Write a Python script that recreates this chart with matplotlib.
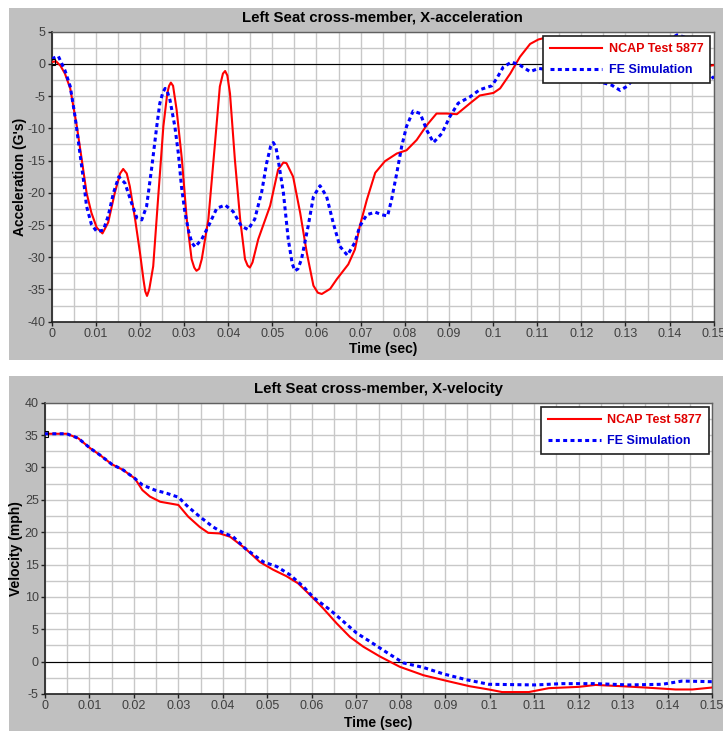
import matplotlib
matplotlib.use("Agg")
import matplotlib.pyplot as plt
from matplotlib.patches import Rectangle
import numpy as np

plt.rcParams['font.family'] = ['Liberation Sans', 'DejaVu Sans']

# acceleration (G's) - NCAP test
acc_ncap_t = [0.000, 0.001, 0.002, 0.003, 0.0042, 0.0057, 0.0068, 0.0079, 0.009, 0.0102,
              0.0115, 0.0128, 0.0143, 0.0155, 0.0162, 0.0170, 0.0177, 0.0189, 0.0200, 0.0208,
              0.0212, 0.0216, 0.0221, 0.023, 0.0242, 0.0253, 0.0262, 0.0266, 0.027, 0.0275,
              0.0283, 0.0295, 0.0306, 0.0317, 0.0323, 0.0328, 0.0334, 0.034, 0.0355, 0.037,
              0.0381, 0.0388, 0.0393, 0.0398, 0.0404, 0.0415, 0.0427, 0.0438, 0.0444, 0.0449,
              0.0455, 0.0468, 0.0495, 0.0513, 0.0525, 0.0532, 0.0547, 0.0563, 0.0578, 0.0593,
              0.0603, 0.0612, 0.0631, 0.0646, 0.0672, 0.0687, 0.0698, 0.0714, 0.0733, 0.0755,
              0.0782, 0.0804, 0.0827, 0.085, 0.0872, 0.0895, 0.0918, 0.0948, 0.097, 0.1001,
              0.1016, 0.1039, 0.1061, 0.1084, 0.1103, 0.1115, 0.1130, 0.1160, 0.1200, 0.1250,
              0.1290, 0.1317, 0.1340, 0.1380, 0.1420, 0.1460, 0.1500]
acc_ncap = [0.3, 0.4, -0.3, -1.5, -3.8, -9.7, -14.8, -20.0, -23.1, -25.4,
            -26.3, -24.6, -20.0, -17.0, -16.3, -17.0, -19.0, -24.1, -29.3, -33.5,
            -35.3, -36.0, -35.0, -31.4, -20.0, -9.7, -4.5, -3.4, -2.9, -3.4,
            -7.1, -14.8, -24.1, -30.3, -31.6, -32.1, -31.8, -30.3, -24.1, -12.3,
            -3.5, -1.5, -1.1, -1.8, -4.6, -14.8, -24.1, -30.3, -31.3, -31.6,
            -30.8, -27.2, -22.0, -16.4, -15.3, -15.4, -17.5, -23.1, -29.3, -34.4,
            -35.5, -35.7, -34.9, -33.4, -31.1, -28.8, -25.2, -21.1, -16.9, -15.1,
            -13.9, -13.4, -11.8, -9.5, -7.7, -7.7, -7.8, -6.1, -4.9, -4.5,
            -3.8, -1.5, 1.1, 3.1, 3.8, 4.0, 3.5, 2.0, 0.5, -1.0,
            -2.2, -2.8, -2.6, -1.6, -1.0, -0.6, -0.2]

# acceleration (G's) - FE simulation
acc_fe_t = [0.000, 0.0015, 0.003, 0.0042, 0.0053, 0.0064, 0.0072, 0.0079, 0.009, 0.0102,
            0.0117, 0.0128, 0.014, 0.0152, 0.0166, 0.0181, 0.0193, 0.0204, 0.0215, 0.0227,
            0.0238, 0.0245, 0.0252, 0.0257, 0.0262, 0.0268, 0.0279, 0.0287, 0.0294, 0.0302,
            0.0311, 0.0318, 0.0325, 0.034, 0.0355, 0.0374, 0.0393, 0.0411, 0.043, 0.0445,
            0.046, 0.0476, 0.0487, 0.0496, 0.0502, 0.0508, 0.0513, 0.0525, 0.0536, 0.0545,
            0.0551, 0.0558, 0.0566, 0.0581, 0.0593, 0.0608, 0.0623, 0.0638, 0.0653, 0.067,
            0.0687, 0.0698, 0.0714, 0.0733, 0.0748, 0.0761, 0.077, 0.0782, 0.0793, 0.0804,
            0.0819, 0.0835, 0.085, 0.0865, 0.0884, 0.0902, 0.0921, 0.0948, 0.097, 0.0997,
            0.1008, 0.1023, 0.1042, 0.1061, 0.1084, 0.1103, 0.1140, 0.1200, 0.1269, 0.1288,
            0.1303, 0.1330, 0.1370, 0.1400, 0.1417, 0.1433, 0.1460, 0.1500]
acc_fe = [0.8, 1.2, -1.0, -3.5, -8.2, -13.9, -18.0, -22.1, -24.9, -26.0,
          -25.8, -23.6, -20.0, -17.5, -18.5, -21.6, -23.9, -24.2, -22.1, -15.9,
          -9.7, -6.1, -4.4, -3.8, -4.3, -5.6, -9.7, -13.9, -19.0, -23.1,
          -26.2, -27.8, -28.4, -27.2, -25.2, -22.4, -21.9, -22.9, -25.2, -25.7,
          -24.1, -19.8, -15.4, -12.8, -12.2, -12.9, -14.8, -20.0, -27.2, -31.0,
          -32.1, -31.8, -30.3, -25.2, -20.6, -18.9, -20.6, -24.7, -28.3, -29.7,
          -27.7, -25.2, -23.4, -23.0, -23.4, -23.6, -21.1, -16.9, -12.8, -9.7,
          -7.3, -7.7, -10.3, -12.2, -10.8, -8.2, -6.1, -5.1, -4.0, -3.4,
          -2.3, -0.5, 0.3, -0.2, -1.2, -0.7, -1.0, -2.0, -3.3, -4.1,
          -3.5, -1.5, 1.5, 3.8, 4.5, 4.2, 1.5, -2.3]

# velocity (mph) - NCAP test
vel_ncap_t = [0.000, 0.0049, 0.0075, 0.0101, 0.0124, 0.015, 0.0176, 0.0202, 0.0219, 0.0236,
              0.0259, 0.030, 0.0322, 0.0348, 0.0367, 0.0393, 0.0416, 0.045, 0.0483, 0.0513,
              0.0543, 0.0569, 0.0596, 0.0626, 0.0656, 0.0686, 0.0716, 0.0753, 0.0798, 0.0851,
              0.0905, 0.0955, 0.0998, 0.1028, 0.1088, 0.1133, 0.120, 0.1238, 0.1298, 0.135,
              0.1418, 0.1456, 0.150]
vel_ncap = [35.2, 35.2, 34.5, 33.0, 31.9, 30.5, 29.6, 28.3, 26.5, 25.5,
            24.7, 24.2, 22.4, 20.8, 19.9, 19.8, 19.3, 17.5, 15.4, 14.2,
            13.2, 12.1, 10.3, 8.2, 5.9, 3.8, 2.3, 0.8, -0.8, -2.1,
            -3.0, -3.8, -4.3, -4.7, -4.7, -4.1, -3.9, -3.6, -3.8, -4.0,
            -4.3, -4.3, -4.0]

# velocity (mph) - FE simulation
vel_fe_t = [0.000, 0.0049, 0.0075, 0.0101, 0.0124, 0.015, 0.0176, 0.0202, 0.0219, 0.0247,
            0.0274, 0.030, 0.0322, 0.0348, 0.0378, 0.0401, 0.0423, 0.045, 0.0491, 0.0521,
            0.0551, 0.0581, 0.0604, 0.0641, 0.0671, 0.0701, 0.0731, 0.0769, 0.0806, 0.0851,
            0.0896, 0.0948, 0.0998, 0.1103, 0.1163, 0.1238, 0.1313, 0.1388, 0.1433, 0.150]
vel_fe = [35.2, 35.2, 34.5, 33.0, 31.9, 30.5, 29.6, 28.3, 27.3, 26.5,
          26.0, 25.4, 23.9, 22.4, 20.8, 19.9, 19.3, 17.5, 15.4, 14.7,
          13.4, 11.6, 9.9, 8.0, 6.2, 4.4, 3.1, 1.4, -0.2, -0.9,
          -1.9, -2.8, -3.5, -3.6, -3.4, -3.4, -3.6, -3.5, -3.0, -3.1]

x_ticks = [0, 0.01, 0.02, 0.03, 0.04, 0.05, 0.06, 0.07, 0.08, 0.09, 0.1, 0.11, 0.12, 0.13, 0.14, 0.15]
x_tick_labels = ['0', '0.01', '0.02', '0.03', '0.04', '0.05', '0.06', '0.07', '0.08',
                 '0.09', '0.1', '0.11', '0.12', '0.13', '0.14', '0.15']
acc_ticks = [5, 0, -5, -10, -15, -20, -25, -30, -35, -40]
vel_ticks = [40, 35, 30, 25, 20, 15, 10, 5, 0, -5]

W, H = 723, 731
fig = plt.figure(figsize=(W / 100, H / 100), dpi=100)

# grey panel backgrounds
fig.add_artist(Rectangle((9 / W, 1 - 360 / H), 1, 352 / H, transform=fig.transFigure,
                         facecolor='#c0c0c0', edgecolor='none', zorder=-10))
fig.add_artist(Rectangle((9 / W, 0), 1, 1 - 376 / H, transform=fig.transFigure,
                         facecolor='#c0c0c0', edgecolor='none', zorder=-10))


def make_panel(rect, t1, y1, t2, y2, yticks, ylim, title, ylabel, ylab_x, xlab_y):
    ax = fig.add_axes(rect)
    ax.set_facecolor('white')
    ax.plot(t1, y1, color='#ff0000', lw=1.5, label='NCAP Test 5877', zorder=3)
    ax.plot(t2, y2, color='#0000ff', lw=2.2, dashes=(1.3, 1.1), label='FE Simulation', zorder=4)
    ax.plot(t1[0], y1[0], marker='s', ms=5, mfc='none', mec='black', mew=0.8, zorder=5)
    ax.axhline(0, color='black', lw=0.8, zorder=2)
    ax.set_xlim(0, 0.15)
    ax.set_ylim(*ylim)
    ax.set_xticks(x_ticks)
    ax.set_xticklabels(x_tick_labels)
    ax.set_yticks(yticks)
    ax.set_yticklabels([str(v) for v in yticks])
    ax.set_xticks(np.arange(0, 0.1501, 0.005), minor=True)
    ax.set_yticks(np.arange(ylim[0], ylim[1] + 0.1, 2.5), minor=True)
    ax.grid(which='both', color='#c8c8c8', lw=1, zorder=0)
    ax.set_axisbelow(True)
    ax.tick_params(which='minor', length=0)
    ax.tick_params(which='major', length=3, width=1, pad=1.5, labelsize=9,
                   labelcolor='#404040', color='#202020')
    for s in ['top', 'right']:
        ax.spines[s].set_color('#606060')
        ax.spines[s].set_linewidth(1)
    for s in ['left', 'bottom']:
        ax.spines[s].set_color('#202020')
        ax.spines[s].set_linewidth(1.2)
    ax.set_title(title, fontsize=10.8, fontweight='bold', y=1.035, pad=0)
    ax.set_ylabel(ylabel, fontsize=10, fontweight='bold')
    ax.set_xlabel('Time (sec)', fontsize=10, fontweight='bold')
    ax.yaxis.set_label_coords(ylab_x, 0.5)
    ax.xaxis.set_label_coords(0.5, xlab_y)
    leg = ax.legend(loc='upper right', bbox_to_anchor=(0.995, 0.986), borderaxespad=0,
                    prop={'size': 9, 'weight': 'bold'}, fancybox=False, framealpha=1,
                    edgecolor='#202020', handlelength=4.2, handletextpad=0.5,
                    labelspacing=0.72, borderpad=0.58)
    leg.get_frame().set_linewidth(1.2)
    leg.set_zorder(10)
    leg.get_texts()[0].set_color('#e00000')
    leg.get_texts()[1].set_color('#0000cc')
    return ax


make_panel([51.7 / W, 1 - 321.7 / H, 662 / W, 290 / H],
           acc_ncap_t, acc_ncap, acc_fe_t, acc_fe, acc_ticks, (-40, 5),
           'Left Seat cross-member, X-acceleration', "Acceleration (G's)", -0.038, -0.07)
make_panel([45 / W, 1 - 694 / H, 667 / W, 291.3 / H],
           vel_ncap_t, vel_ncap, vel_fe_t, vel_fe, vel_ticks, (-5, 40),
           'Left Seat cross-member, X-velocity', 'Velocity (mph)', -0.0325, -0.075)

fig.savefig('out.png', dpi=100)
